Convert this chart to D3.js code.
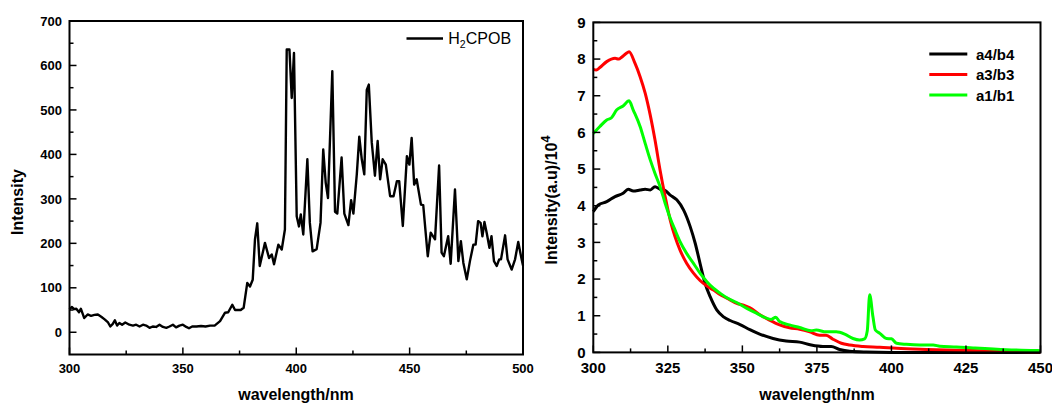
<!DOCTYPE html>
<html><head><meta charset="utf-8">
<script src="https://cdn.jsdelivr.net/npm/d3@7"></script>
<style>
html,body{margin:0;padding:0;background:#fff;}
svg{display:block;font-family:"Liberation Sans",Arial,sans-serif;}
</style></head>
<body>
<svg id="chart" width="1052" height="403"></svg>
<script>
// ---- Left panel data (H2CPOB) ----
const h2cpobWl = [300,301,302,303,304.2,305,306.5,308,309.5,311,312.5,314,315.5,317,318,319.1,320,321,322,323.2,324.6,326.4,328,329.4,330.9,332.4,333.8,335.3,336.7,338.2,339.7,341.2,342.7,344.1,345.6,347,348.5,350,351.5,352.7,354.1,356,358,360,362,364,366.4,368.6,370,371.8,373,375.5,376.8,378.4,379.6,380.8,381.8,382.8,383.9,386.2,388,389.2,390.2,392.1,393.6,395,395.8,397,398,399,400.2,401.2,402,403.1,404.9,406,407.2,409,410.7,411.9,413,414,415.9,417.1,418.1,420,421.2,423,424.2,425.2,426.7,427.8,428.9,430,431.1,432,433.3,434.7,435.9,437,438.1,439.5,441.4,442.9,444.4,445.4,447,448.8,449.9,450.9,452,453.1,455,456,458,459.3,461.2,463,464.1,465.1,467,468.1,470,471.5,472.6,473.7,475.2,476.6,478.1,479.1,480.2,481.3,482.1,483,484,485.2,486.1,487.2,488.4,489.5,490.3,492.1,493.2,495,496.5,497.9,499.4,500];
const h2cpobInt = [51,57,52,53,45,53,32,40,37,39,40,35,29,22,13,19,27,15,21,17,22,17,15,17,13,17,15,10,13,12,17,12,10,13,17,11,15,17,12,9,13,13,14,13,15,15,25,44,45,62,50,50,55,111,103,118,209,245,149,201,167,175,153,197,186,231,636,636,527,628,261,238,265,220,389,246,182,187,246,411,336,302,587,271,267,393,267,241,297,267,355,440,389,355,545,557,427,352,430,344,389,377,306,306,340,340,239,396,377,437,332,344,287,286,171,224,209,375,179,171,216,154,321,160,205,156,119,160,197,197,250,246,216,248,223,190,216,160,149,164,164,218,164,141,164,203,164,150];
const leftXTicks = [300,350,400,450,500];
const leftYTicks = [0,100,200,300,400,500,600,700];

// ---- Right panel data ----
const a4b4Wl  = [300,301.7,304.5,307.3,310,311.7,313.4,315.7,317.4,319.1,320.7,322.4,324,325.8,328,330.3,332.5,334.2,335.8,337.5,339.2,341.4,343.7,345.9,349.2,352.5,355.8,360.3,364.7,369.2,373.1,377,379.8,382.6,386,391.5,400,420,450];
const a4b4Val = [3.84,4.02,4.11,4.25,4.34,4.45,4.40,4.43,4.45,4.43,4.52,4.45,4.42,4.29,4.16,3.88,3.43,2.97,2.43,1.88,1.52,1.16,0.97,0.87,0.76,0.62,0.50,0.38,0.31,0.28,0.20,0.16,0.16,0.08,0.03,0.01,0.0,0.0,0.0];
const a3b3Wl  = [300,301,302.2,304.5,307.3,308.5,309.5,311,312,314,315.7,317.4,319.1,320.7,322.4,324.1,325.8,327.4,329.1,331.3,333.6,335.8,338.1,340.3,342.6,344.8,348.1,351,352.4,356,359.1,362.5,365.8,369.2,372.6,375.9,378.1,380.4,383.2,386,390.5,396.1,401.7,411.8,427.4,449.2,450];
const a3b3Val = [7.72,7.70,7.77,7.93,8.02,8.0,8.05,8.15,8.2,7.88,7.52,7.07,6.47,5.79,4.97,4.25,3.61,3.16,2.79,2.43,2.16,1.96,1.81,1.70,1.57,1.48,1.34,1.27,1.22,1.02,0.88,0.75,0.67,0.63,0.56,0.47,0.47,0.36,0.25,0.20,0.16,0.14,0.11,0.08,0.05,0.02,0.02];
const a1b1Wl  = [300,302.2,304.5,306.1,307.8,310,312,313.4,315.7,317.4,319.1,320.7,322.4,324.1,325.8,327.4,329.1,331.3,333.6,335.8,338.1,340.3,342.6,344.8,348.1,351.5,354.7,359.7,361.2,362.5,365.8,369.2,373.1,374.8,378.1,381.5,384.3,387.1,389.3,391,391.9,392.7,393.8,394.6,396.1,398.3,400,401.7,405,409.5,414,416.2,421.8,427.4,438.6,449.2,450];
const a1b1Val = [5.97,6.16,6.34,6.40,6.61,6.72,6.86,6.61,6.16,5.70,5.25,4.88,4.52,4.07,3.66,3.34,3.02,2.70,2.43,2.16,1.93,1.75,1.61,1.49,1.36,1.20,1.07,0.90,0.96,0.84,0.75,0.68,0.59,0.61,0.56,0.56,0.50,0.38,0.34,0.37,0.59,1.57,0.97,0.61,0.52,0.38,0.37,0.25,0.22,0.20,0.20,0.17,0.15,0.12,0.07,0.05,0.04];
const rightSeriesNames = ["a4/b4","a3/b3","a1/b1"];
const rightSeriesColors = ["#000000","#ff0000","#00ff00"];
const rightXTicks = [300,325,350,375,400,425,450];
const rightYTicks = [0,1,2,3,4,5,6,7,8,9];

const svg = d3.select("#chart");

function frameAxes(g, x, y, xTicks, xMinor, yTicks, yMinor, fs, xLabelY, yLabelX) {
  const [x0,x1] = x.range(), [yb,yt] = y.range();
  g.selectAll(".xmin").data(xMinor).join("line")
    .attr("x1", d=>x(d)).attr("x2", d=>x(d)).attr("y1", yb).attr("y2", yb-4)
    .attr("stroke","#000").attr("stroke-width",1.5);
  g.selectAll(".xmaj").data(xTicks).join("line")
    .attr("x1", d=>x(d)).attr("x2", d=>x(d)).attr("y1", yb).attr("y2", yb-7)
    .attr("stroke","#000").attr("stroke-width",1.5);
  g.selectAll(".ymin").data(yMinor).join("line")
    .attr("y1", d=>y(d)).attr("y2", d=>y(d)).attr("x1", x0).attr("x2", x0+4)
    .attr("stroke","#000").attr("stroke-width",1.5);
  g.selectAll(".ymaj").data(yTicks).join("line")
    .attr("y1", d=>y(d)).attr("y2", d=>y(d)).attr("x1", x0).attr("x2", x0+7)
    .attr("stroke","#000").attr("stroke-width",1.5);
  g.append("rect").attr("x", x0).attr("y", yt).attr("width", x1-x0).attr("height", yb-yt)
    .attr("fill","none").attr("stroke","#000").attr("stroke-width",2);
  g.selectAll(".xl").data(xTicks).join("text")
    .attr("x", d=>x(d)).attr("y", xLabelY).attr("text-anchor","middle")
    .attr("font-size", fs).attr("font-weight","bold").text(d=>d);
  g.selectAll(".yl").data(yTicks).join("text")
    .attr("x", yLabelX).attr("y", d=>y(d)).attr("dy","0.36em").attr("text-anchor","end")
    .attr("font-size", fs).attr("font-weight","bold").text(d=>d);
}

// ---- Left panel ----
{
  const x = d3.scaleLinear().domain([300,500]).range([69.5,523]);
  const y = d3.scaleLinear().domain([-50,700]).range([354.5,21]);
  const g = svg.append("g");
  const xMinor = d3.range(325,500,50);
  const yMinor = d3.range(50,700,100);
  const pts = h2cpobWl.map((w,i)=>[w,h2cpobInt[i]]);
  g.append("path").datum(pts)
    .attr("d", d3.line().x(d=>x(d[0])).y(d=>y(d[1])))
    .attr("fill","none").attr("stroke","#000").attr("stroke-width",2.4).attr("stroke-linejoin","round");
  frameAxes(g, x, y, leftXTicks, xMinor, leftYTicks, yMinor, 13, 372.5, 62);
  g.append("text").attr("transform","translate(23,202) rotate(-90)").attr("text-anchor","middle")
    .attr("font-size",16).attr("font-weight","bold").text("Intensity");
  g.append("text").attr("x",296).attr("y",400).attr("text-anchor","middle")
    .attr("font-size",16).attr("font-weight","bold").text("wavelength/nm");
  g.append("line").attr("x1",406.5).attr("x2",443).attr("y1",38.5).attr("y2",38.5)
    .attr("stroke","#000").attr("stroke-width",2.4);
  const t = g.append("text").attr("x",448.3).attr("y",44).attr("font-size",16);
  t.append("tspan").text("H");
  t.append("tspan").attr("font-size",10.5).attr("dy",4).text("2");
  t.append("tspan").attr("dy",-4).text("CPOB");
}

// ---- Right panel ----
{
  const x = d3.scaleLinear().domain([300,450]).range([593.3,1040.5]);
  const y = d3.scaleLinear().domain([0,9]).range([352.4,22.4]);
  const g = svg.append("g");
  const xMinor = d3.range(312.5,450,25);
  const yMinor = d3.range(0.5,9,1);
  const series = [
    {wl:a4b4Wl, v:a4b4Val},
    {wl:a3b3Wl, v:a3b3Val},
    {wl:a1b1Wl, v:a1b1Val}
  ];
  const line = d3.line().x(d=>x(d[0])).y(d=>y(d[1])).curve(d3.curveMonotoneX);
  series.forEach((s,i)=>{
    g.append("path").datum(s.wl.map((w,j)=>[w,s.v[j]]))
      .attr("d", line).attr("fill","none").attr("stroke", rightSeriesColors[i])
      .attr("stroke-width",3).attr("stroke-linejoin","round");
  });
  frameAxes(g, x, y, rightXTicks, xMinor, rightYTicks, yMinor, 15, 372.7, 585.5);
  const yt = g.append("text").attr("transform","translate(557,200) rotate(-90)").attr("text-anchor","middle")
    .attr("font-size",16).attr("font-weight","bold");
  yt.append("tspan").text("Intensity(a.u)/10");
  yt.append("tspan").attr("font-size",12.5).attr("dy",-7).text("4");
  g.append("text").attr("x",817).attr("y",400).attr("text-anchor","middle")
    .attr("font-size",16).attr("font-weight","bold").text("wavelength/nm");
  const legY = [54,74.5,95];
  rightSeriesNames.forEach((n,i)=>{
    g.append("line").attr("x1",929.3).attr("x2",967.3).attr("y1",legY[i]).attr("y2",legY[i])
      .attr("stroke", rightSeriesColors[i]).attr("stroke-width",3.2);
    g.append("text").attr("x",976).attr("y",legY[i]+5.5).attr("font-size",15).attr("font-weight","bold").text(n);
  });
}
</script>
</body></html>
